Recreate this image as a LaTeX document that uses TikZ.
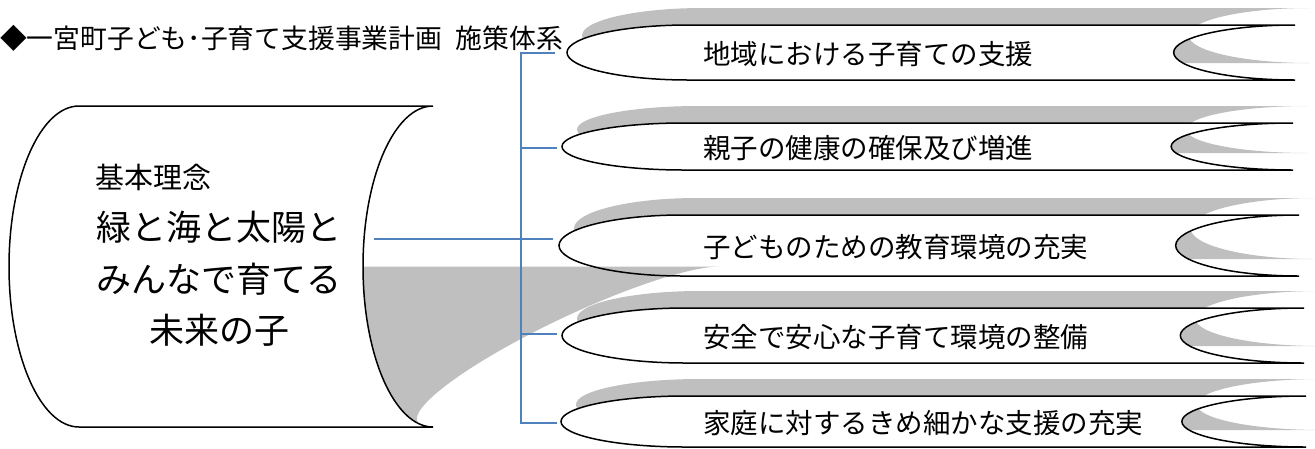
\documentclass[tikz,border=0pt]{standalone}
\usepackage{fontspec}
\newfontfamily\jp{Noto Sans CJK JP}
\definecolor{shadowgray}{RGB}{191,191,191}
\definecolor{linkblue}{RGB}{79,129,189}
% stored-data shape: #1 x0, #2 x1, #3 top, #4 bottom, #5 rx, #6 options
\newcommand\sdshape[6]{%
  \pgfmathsetmacro\sdA{#1+#5}%
  \pgfmathsetmacro\sdM{(#3+#4)/2}%
  \pgfmathsetmacro\sdK{0.5523*(#4-#3)/2}%
  \pgfmathsetmacro\sdKx{0.5523*#5}%
  \pgfmathsetmacro\sdI{#2-#5}%
  \path[#6] (\sdA,#3) -- (#2,#3)
    .. controls ({#2-\sdKx},#3) and (\sdI,{\sdM-\sdK}) .. (\sdI,\sdM)
    .. controls (\sdI,{\sdM+\sdK}) and ({#2-\sdKx},#4) .. (#2,#4)
    -- (\sdA,#4)
    .. controls ({\sdA-\sdKx},#4) and (#1,{\sdM+\sdK}) .. (#1,\sdM)
    .. controls (#1,{\sdM-\sdK}) and ({\sdA-\sdKx},#3) .. (\sdA,#3) -- cycle;
}
% scroll body (shadow + white fill)
\newcommand\scrollbody[4]{%
  \pgfmathsetmacro\sdR{(#2-#1)/6}%
  \edef\sdRR{\sdR}%
  \sdshape{#1}{#2}{#3}{#4}{\sdRR}{fill=shadowgray, shift={(15,-17)}}%
  \sdshape{#1}{#2}{#3}{#4}{\sdRR}{fill=white}%
}
% scroll outline
\newcommand\scrollline[4]{%
  \pgfmathsetmacro\sdR{(#2-#1)/6}%
  \edef\sdRR{\sdR}%
  \sdshape{#1}{#2}{#3}{#4}{\sdRR}{outline}%
}
\begin{document}
\begin{tikzpicture}[x=1pt,y=-1pt,
  outline/.style={draw=black, line width=1.5pt},
  link/.style={draw=linkblue, line width=1.6pt},
  scrolltext/.style={anchor=west, inner sep=0pt, font=\jp\fontsize{27.5}{30}\selectfont},
  bigtext/.style={inner sep=0pt, font=\jp\fontsize{35}{40}\selectfont},
  titletext/.style={anchor=west, inner sep=0pt, font=\jp\fontsize{26.8}{30}\selectfont}]
\useasboundingbox (0,0) rectangle (1315,448);
% five policy scrolls: shadows and fills
\scrollbody{567}{1295}{25}{80}
\scrollbody{562}{1293}{123}{170}
\scrollbody{559}{1299}{215}{276}
\scrollbody{562}{1304}{308}{363}
\scrollbody{561}{1306}{396}{447}
% perspective shadow of the big shape
\path[fill=shadowgray] (366,266.5) -- (720,266.5)
  .. controls (681.3,266.5) and (585.7,302.4) .. (506.5,346.75)
  .. controls (427.2,391.1) and (394.3,427) .. (433,427)
  -- (79,427)
  .. controls (40.34,427) and (73.2,391.1) .. (152.5,346.75)
  .. controls (231.7,302.4) and (327.3,266.5) .. (366,266.5) -- cycle;
% scroll outlines
\scrollline{567}{1295}{25}{80}
\scrollline{562}{1293}{123}{170}
\scrollline{559}{1299}{215}{276}
\scrollline{562}{1304}{308}{363}
\scrollline{561}{1306}{396}{447}
% big shape
\sdshape{9}{433}{106}{427}{70}{fill=white, outline}
% texts
\node[titletext] (title) at (0,38) {◆一宮町子ども･子育て支援事業計画\hspace{0.5em}施策体系};
\node[anchor=west, inner sep=0pt, font=\jp\fontsize{29}{32}\selectfont] (kihon) at (95,177) {基本理念};
\node[bigtext] (l1) at (219,227) {緑と海と太陽と};
\node[bigtext] (l2) at (219,279) {みんなで育てる};
\node[bigtext] (l3) at (219,330) {未来の子};
\node[scrolltext] (t1) at (703,54.5) {地域における子育ての支援};
\node[scrolltext] (t2) at (703,148.5) {親子の健康の確保及び増進};
\node[scrolltext] (t3) at (703,247.5) {子どものための教育環境の充実};
\node[scrolltext] (t4) at (703,337.5) {安全で安心な子育て環境の整備};
\node[scrolltext] (t5) at (703,423.5) {家庭に対するきめ細かな支援の充実};
% connectors
\coordinate (vtop) at (521,53);
\coordinate (vbot) at (521,423);
\coordinate (j2) at (521,148);
\coordinate (j4) at (521,334);
\coordinate (e1) at (555,53);
\coordinate (e2) at (557,148);
\coordinate (e4) at (557,334);
\coordinate (e5) at (557,423);
\coordinate (bigR) at (374,239);
\coordinate (e3) at (553,239);
\draw[link] (e1) -- (vtop) -- (vbot) -- (e5);
\draw[link] (j2) -- (e2);
\draw[link] (j4) -- (e4);
\draw[link] (bigR) -- (e3);
\end{tikzpicture}
\end{document}
